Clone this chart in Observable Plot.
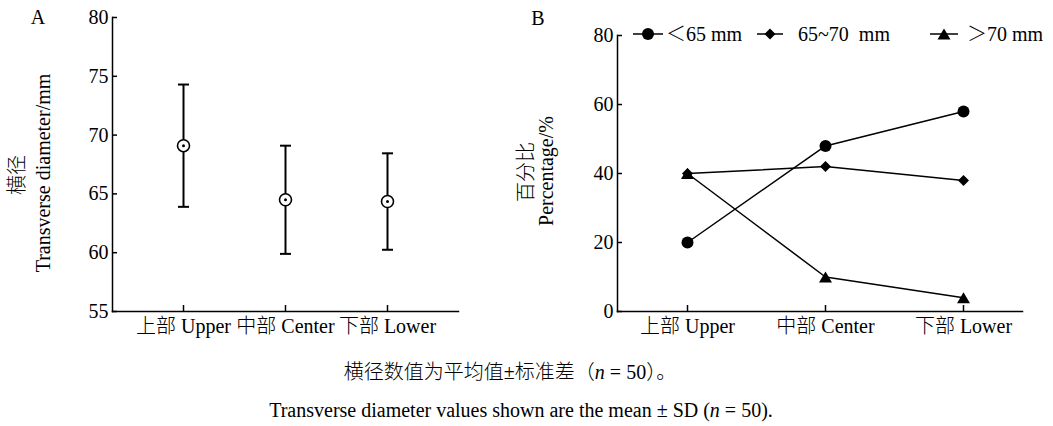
<!DOCTYPE html>
<html><head><meta charset="utf-8">
<script src="https://cdn.jsdelivr.net/npm/d3@7"></script>
<script src="https://cdn.jsdelivr.net/npm/@observablehq/plot@0.6"></script>
<style>
body{margin:0;background:#fff;}
#wrap{position:relative;width:1053px;height:426px;font-family:"Liberation Serif","Noto Sans CJK SC",serif;font-weight:300;color:#000;overflow:hidden;}
#wrap svg, #wrap svg text, #wrap svg tspan{font-family:"Liberation Serif","Noto Sans CJK SC",serif !important;font-weight:300;}
.abs{position:absolute;white-space:nowrap;font-size:20px;line-height:1;}
.rot{transform:translate(-50%,-50%) rotate(-90deg);}
.ctr{transform:translate(-50%,-50%);}
#wrap svg{position:absolute;top:0;}
</style></head><body><div id="wrap"></div>
<script>
// ---- data ----
const positions = ["上部 Upper", "中部 Center", "下部 Lower"];
const diamMean = [69.1, 64.5, 64.35];
const diamSD = [5.2, 4.6, 4.1];
const yTicksA = [55, 60, 65, 70, 75, 80];

const seriesNames = ["＜65 mm", "65~70  mm", "＞70 mm"];
const pctLt65 = [20, 48, 58];
const pct65to70 = [40, 42, 38];
const pctGt70 = [40, 10, 4];
const yTicksB = [0, 20, 40, 60, 80];

const FONT = '"Liberation Serif","Noto Sans CJK SC",serif';
const wrap = document.getElementById("wrap");

// custom symbols
const rOf = s => Math.sqrt(s / Math.PI);
const diamondSym = {draw(c, s){const r = rOf(s); c.moveTo(0,-r); c.lineTo(r,0); c.lineTo(0,r); c.lineTo(-r,0); c.closePath();}};
const triSym = {draw(c, s){const r = rOf(s); c.moveTo(0,-r*0.85); c.lineTo(r,r*0.85); c.lineTo(-r,r*0.85); c.closePath();}};
const capSym = {draw(c, s){const r = rOf(s); c.moveTo(-r,0); c.lineTo(r,0);}};

// ---- Panel A ----
const dataA = positions.map((p, i) => ({pos: p, mean: diamMean[i], lo: diamMean[i] - diamSD[i], hi: diamMean[i] + diamSD[i]}));
const WA = 500, HA = 345, mA = {l: 112, r: 42, t: 17, b: 34};
const plotA = Plot.plot({
  width: WA, height: HA, marginLeft: mA.l, marginRight: mA.r, marginTop: mA.t, marginBottom: mA.b,
  style: {fontFamily: FONT, fontSize: "20px", color: "black", background: "transparent", overflow: "visible"},
  x: {type: "point", domain: positions, padding: 0.68},
  y: {domain: [55, 80]},
  marks: [
    Plot.axisY({ticks: yTicksA, tickSize: 0, tickPadding: 4, label: null, tickFormat: d => d}),
    Plot.axisX({tickSize: 0, tickPadding: 7, label: null}),
    Plot.tickY(yTicksA, {y: d => d, insetRight: WA - mA.l - mA.r - 5, strokeWidth: 1.5}),
    Plot.tickX(positions, {x: d => d, insetTop: HA - mA.t - mA.b - 6, strokeWidth: 1.5}),
    Plot.frame({anchor: "left", strokeWidth: 1.5}),
    Plot.frame({anchor: "bottom", strokeWidth: 1.5}),
    Plot.ruleX(dataA, {x: "pos", y1: "lo", y2: "hi", strokeWidth: 2}),
    Plot.dot(dataA, {x: "pos", y: "hi", symbol: capSym, r: 5.5, stroke: "black", fill: "none", strokeWidth: 2}),
    Plot.dot(dataA, {x: "pos", y: "lo", symbol: capSym, r: 5.5, stroke: "black", fill: "none", strokeWidth: 2}),
    Plot.dot(dataA, {x: "pos", y: "mean", r: 6, fill: "white", stroke: "black", strokeWidth: 1.6}),
    Plot.dot(dataA, {x: "pos", y: "mean", r: 1.5, fill: "black", stroke: "none"})
  ]
});
plotA.style.left = "0px";
wrap.appendChild(plotA);

// ---- Panel B ----
const seriesVals = [pctLt65, pct65to70, pctGt70];
const seriesSyms = ["circle", diamondSym, triSym];
const seriesR = [6, 5.5, 6.5];
const dataB = [];
seriesNames.forEach((s, k) => positions.forEach((p, i) => dataB.push({series: s, pos: p, value: seriesVals[k][i]})));
const WB = 553, HB = 345, mB = {l: 117, r: 31, t: 35, b: 34};
const plotB = Plot.plot({
  width: WB, height: HB, marginLeft: mB.l, marginRight: mB.r, marginTop: mB.t, marginBottom: mB.b,
  style: {fontFamily: FONT, fontSize: "20px", color: "black", background: "transparent", overflow: "visible"},
  x: {type: "point", domain: positions, padding: 0.462, align: 0.54},
  y: {domain: [0, 80]},
  marks: [
    Plot.axisY({ticks: yTicksB, tickSize: 0, tickPadding: 4, label: null, tickFormat: d => d}),
    Plot.axisX({tickSize: 0, tickPadding: 7, label: null}),
    Plot.tickY(yTicksB, {y: d => d, insetRight: WB - mB.l - mB.r - 5, strokeWidth: 1.5}),
    Plot.tickX(positions, {x: d => d, insetTop: HB - mB.t - mB.b - 6, strokeWidth: 1.5}),
    Plot.frame({anchor: "left", strokeWidth: 1.5}),
    Plot.frame({anchor: "bottom", strokeWidth: 1.5}),
    Plot.line(dataB, {x: "pos", y: "value", z: "series", stroke: "black", strokeWidth: 1.5}),
    ...seriesNames.map((s, k) => Plot.dot(dataB.filter(d => d.series === s), {x: "pos", y: "value", symbol: seriesSyms[k], r: seriesR[k], fill: "black", stroke: "none"}))
  ]
});
plotB.style.left = "500px";
wrap.appendChild(plotB);

// ---- legend (panel B) ----
const leg = d3.select(wrap).append("svg").attr("width", 1053).attr("height", 60)
  .style("left", "0px").style("font-size", "20px");
const legItems = [
  {x1: 633, x2: 663, tx: 666},
  {x1: 757, x2: 783, tx: 798},
  {x1: 930, x2: 958, tx: 967}
];
const legY = 34;
legItems.forEach((it, k) => {
  leg.append("line").attr("x1", it.x1).attr("x2", it.x2).attr("y1", legY).attr("y2", legY).attr("stroke", "black").attr("stroke-width", 1.5);
  const sym = typeof seriesSyms[k] === "string" ? d3.symbolCircle : seriesSyms[k];
  const r = seriesR[k];
  leg.append("path").attr("d", d3.symbol(sym, Math.PI * r * r)()).attr("transform", `translate(${(it.x1 + it.x2) / 2},${legY})`).attr("fill", "black");
  leg.append("text").attr("x", it.tx).attr("y", legY).attr("dy", "0.35em").text(seriesNames[k]).style("white-space", "pre");
});

// ---- text labels ----
function addText(html, x, y, cls, size) {
  const d = document.createElement("div");
  d.className = "abs " + cls;
  d.style.left = x + "px"; d.style.top = y + "px";
  if (size) d.style.fontSize = size + "px";
  d.innerHTML = html;
  wrap.appendChild(d);
}
addText("A", 38, 17, "ctr", 20);
addText("B", 538, 18, "ctr", 20);
addText("横径", 17, 175, "rot", 20);
addText("Transverse diameter/mm", 43, 173, "rot", 20);
addText("百分比", 526, 172, "rot", 20);
addText("Percentage/%", 546, 171, "rot", 20);
addText("横径数值为平均值±标准差（<i>n</i> = 50）。", 510, 372, "ctr", 20);
addText("Transverse diameter values shown are the mean ± SD (<i>n</i> = 50).", 521, 410, "ctr", 20);
</script></body></html>
